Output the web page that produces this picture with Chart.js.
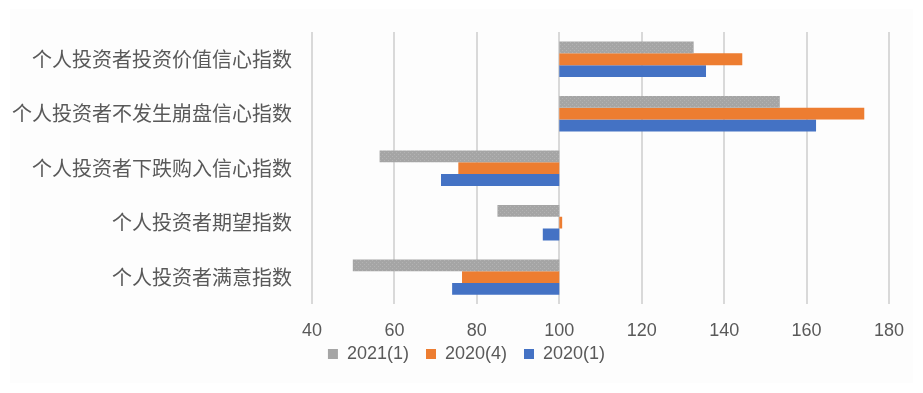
<!DOCTYPE html>
<html>
<head>
<meta charset="utf-8">
<script src="https://cdn.jsdelivr.net/npm/chart.js@4/dist/chart.umd.min.js"></script>
<style>
  html, body { margin: 0; padding: 0; background: #fff; }
  #panel { position: absolute; left: 10px; top: 9px; width: 903px; height: 374px; background: #fdfdfd; }
  #wrap { position: relative; width: 923px; height: 393px; }
</style>
</head>
<body>
<div id="wrap">
  <div id="panel"></div>
  <canvas id="chartCanvas" width="923" height="393" style="position:absolute;left:0;top:0"></canvas>
</div>
<script>
// --- data ---
const categories = [
  "个人投资者投资价值信心指数",
  "个人投资者不发生崩盘信心指数",
  "个人投资者下跌购入信心指数",
  "个人投资者期望指数",
  "个人投资者满意指数"
];
const seriesNames = ["2021(1)", "2020(4)", "2020(1)"];
const values2021q1 = [132.6, 153.5, 56.4, 85.0, 49.9];
const values2020q4 = [144.4, 174.0, 75.5, 100.7, 76.4];
const values2020q1 = [135.6, 162.3, 71.3, 96.0, 74.0];
const baseValue = 100;
const xTicks = [40, 60, 80, 100, 120, 140, 160, 180];

// gray bars have a faint dotted texture
function dotPattern(base, dot) {
  const c = document.createElement("canvas");
  c.width = 4; c.height = 4;
  const g = c.getContext("2d");
  g.fillStyle = base; g.fillRect(0, 0, 4, 4);
  g.fillStyle = dot; g.fillRect(0, 0, 1, 1); g.fillRect(2, 2, 1, 1);
  return g.createPattern(c, "repeat");
}

// bars float from the 100 baseline
const floating = arr => arr.map(v => [baseValue, v]);

const colors = [dotPattern("#a5a5a5", "#b3b3b3"), "#ed7d31", "#4472c4"];
const legendColors = ["#a5a5a5", "#ed7d31", "#4472c4"];
const seriesData = [values2021q1, values2020q4, values2020q1];

const datasets = seriesNames.map((name, i) => ({
  label: name,
  data: floating(seriesData[i]),
  backgroundColor: colors[i],
  borderWidth: 0,
  categoryPercentage: 0.65,
  barPercentage: 1.0
}));

const numFont = { family: "'Liberation Sans', Arial, sans-serif", size: 18 };

// nudge the legend up under the axis labels and a bit right, like the original
const legendNudge = {
  id: "legendNudge",
  afterLayout(chart) {
    const lg = chart.legend;
    lg.top -= 30; lg.bottom -= 30;
    lg.left += 17; lg.right += 17;
  }
};

new Chart(document.getElementById("chartCanvas"), {
  type: "bar",
  data: { labels: categories, datasets },
  plugins: [legendNudge],
  options: {
    indexAxis: "y",
    responsive: false,
    animation: false,
    layout: { padding: { left: 10, right: 34, top: 29, bottom: -10 } },
    plugins: {
      legend: {
        position: "bottom",
        labels: {
          boxWidth: 10,
          boxHeight: 10,
          padding: 17,
          color: "#595959",
          font: numFont,
          generateLabels: chart => chart.data.datasets.map((d, i) => ({
            text: d.label,
            fillStyle: legendColors[i],
            strokeStyle: legendColors[i],
            lineWidth: 0,
            fontColor: "#595959",
            datasetIndex: i
          }))
        }
      },
      tooltip: { enabled: false }
    },
    scales: {
      x: {
        min: xTicks[0],
        max: xTicks[xTicks.length - 1],
        afterBuildTicks: s => { s.ticks = xTicks.map(v => ({ value: v })); },
        grid: { color: "#d9d9d9", lineWidth: 2, drawTicks: false },
        border: { display: false },
        ticks: { color: "#595959", font: numFont, padding: 16 }
      },
      y: {
        grid: { display: false, drawTicks: false },
        border: { display: false },
        afterFit: s => { s.width = 302; },
        ticks: {
          color: "#595959",
          padding: 20,
          font: { family: "'Noto Sans CJK SC', sans-serif", size: 20 }
        }
      }
    }
  }
});
</script>
</body>
</html>
